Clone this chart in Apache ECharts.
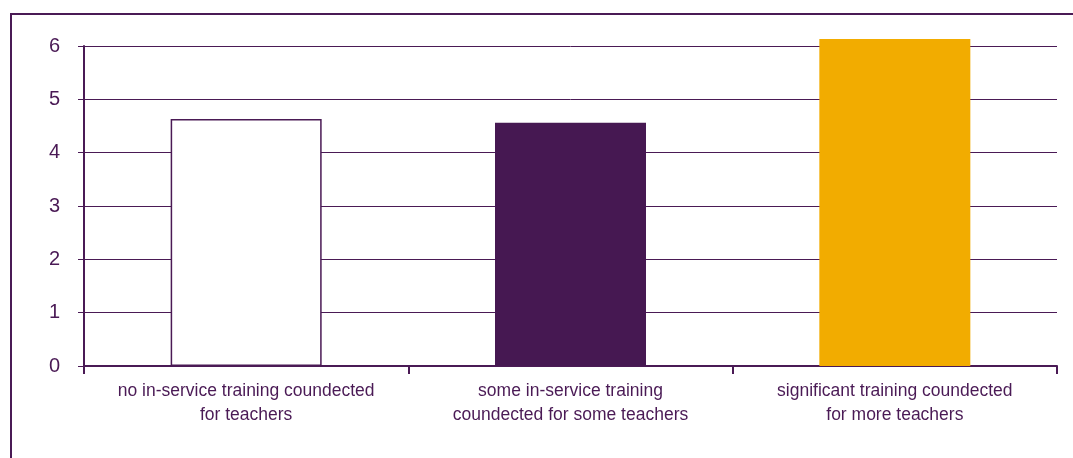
<!DOCTYPE html>
<html>
<head>
<meta charset="utf-8">
<script src="https://cdn.jsdelivr.net/npm/echarts@6/dist/echarts.min.js"></script>
<style>
  html, body { margin: 0; padding: 0; background: #ffffff; }
  #chart { width: 1073px; height: 458px; }
</style>
</head>
<body>
<div id="chart"></div>
<script>
// Training categories (line breaks as printed under the axis)
const categories = [
  'no in-service training coundected\nfor teachers',
  'some in-service training\ncoundected for some teachers',
  'significant training coundected\nfor more teachers'
];
// Bar values
const values = [4.63, 4.56, 6.13];
// Bar fill colours
const barColors = ['#ffffff', '#461852', '#f2ac00'];
// Value axis range
const yMin = 0;
const yMax = 6;
const yStep = 1;

const ink = '#4a1a55';

const chart = echarts.init(document.getElementById('chart'), null, { renderer: 'canvas' });

chart.setOption({
  animation: false,
  backgroundColor: '#ffffff',
  textStyle: { fontFamily: 'Liberation Sans, Arial, sans-serif' },
  graphic: [{
    type: 'rect',
    shape: { x: 11, y: 14, width: 1200, height: 600 },
    style: { fill: 'none', stroke: ink, lineWidth: 2 },
    silent: true
  }],
  grid: { left: 84, right: 16, top: 46, bottom: 92, containLabel: false },
  xAxis: {
    type: 'category',
    data: categories,
    boundaryGap: true,
    axisLine: { show: true, lineStyle: { color: ink, width: 2 } },
    axisTick: { show: true, interval: 0, length: 8, lineStyle: { color: ink, width: 2 } },
    axisLabel: {
      interval: 0,
      color: ink,
      fontSize: 17.5,
      lineHeight: 24,
      margin: 13,
      fontFamily: 'Liberation Sans, Arial, sans-serif'
    }
  },
  yAxis: {
    type: 'value',
    min: yMin,
    max: yMax,
    interval: yStep,
    axisLine: { show: true, lineStyle: { color: ink, width: 2 } },
    axisTick: { show: true, inside: false, length: 6, lineStyle: { color: ink, width: 1 } },
    splitLine: { show: true, lineStyle: { color: ink, width: 1 } },
    axisLabel: {
      color: ink,
      fontSize: 20,
      margin: 24,
      fontFamily: 'Liberation Sans, Arial, sans-serif'
    }
  },
  series: [{
    type: 'bar',
    clip: false,
    barWidth: 151,
    data: values.map((v, i) => ({
      value: v,
      itemStyle: {
        color: barColors[i],
        borderColor: i === 0 ? ink : barColors[i],
        borderWidth: i === 0 ? 1.5 : 0
      }
    }))
  }]
});
</script>
</body>
</html>
